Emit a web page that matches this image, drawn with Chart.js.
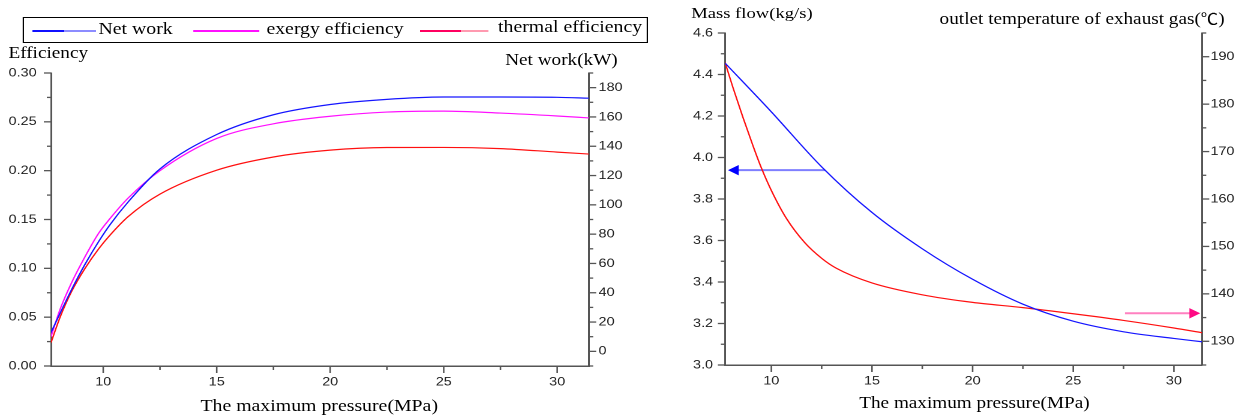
<!DOCTYPE html>
<html>
<head>
<meta charset="utf-8">
<script src="https://cdn.jsdelivr.net/npm/chart.js@4.4.1/dist/chart.umd.min.js"></script>
<style>
  html, body { margin: 0; padding: 0; background: #fff; }
  /* the whole figure is drawn narrow and widened, like the original export */
  #page { position: relative; width: 1030px; height: 416px; transform: scaleX(1.2); transform-origin: 0 0; }
  canvas { position: absolute; top: 0; }
  #effChart  { left: 0; }
  #massChart { left: 560px; }
  .ttl { position: absolute; font: 16px "Liberation Serif", "Times New Roman", serif; color: #000; white-space: nowrap; line-height: 18px; }
  .ctr { transform: translateX(-50%); }
  .cjk { font-family: "Noto Sans CJK SC", sans-serif; font-size: 14.5px; }
  #legend { position: absolute; left: 19px; top: 17px; width: 519px; height: 24px; border: 1.5px solid #000; }
  #legend .ln { position: absolute; top: 12px; height: 2px; }
  #legend .tx { position: absolute; top: 2px; font: 16.5px "Liberation Serif", "Times New Roman", serif; white-space: nowrap; line-height: 18px; }
</style>
</head>
<body>
<div id="page">
  <canvas id="effChart" width="540" height="416"></canvas>
  <canvas id="massChart" width="470" height="416"></canvas>

  <div id="legend">
    <span class="ln" style="left:7px;width:53px;background:linear-gradient(to right,#1010ff 50%,#8c8cff 50%)"></span>
    <span class="tx" style="left:62px">Net work</span>
    <span class="ln" style="left:141px;width:55px;background:#ff10ff"></span>
    <span class="tx" style="left:202px">exergy efficiency</span>
    <span class="ln" style="left:330px;width:57px;background:linear-gradient(to right,#ff0060 60%,#ff9ab0 60%)"></span>
    <span class="tx" style="left:395px;top:0">thermal efficiency</span>
  </div>

  <div class="ttl" style="left:7px;top:44px">Efficiency</div>
  <div class="ttl" style="left:421px;top:51px">Net work(kW)</div>
  <div class="ttl ctr" style="left:266px;top:397px;font-size:16.5px">The maximum pressure(MPa)</div>

  <div class="ttl" style="left:576px;top:4px;font-size:15.5px">Mass flow(kg/s)</div>
  <div class="ttl" style="left:783px;top:9px">outlet temperature of exhaust gas(<span class="cjk">℃</span>)</div>
  <div class="ttl ctr" style="left:812px;top:394px">The maximum pressure(MPa)</div>
</div>

<script>
"use strict";

// ── data: efficiency / net work vs maximum pressure ──────────────────────────
const pressure   = [7.7, 8.1, 8.6, 9.2, 9.8, 10.3, 11.1, 12.5, 15, 17.5, 20, 22.5, 25, 27.5, 30, 31.4];
const netWork    = [12.9, 26, 42, 59.5, 75, 86.5, 102, 124.5, 148, 161.5, 168.5, 172, 173.6, 173.6, 173.4, 172.8];
const exergyEff  = [0.030, 0.058, 0.085, 0.112, 0.136, 0.151, 0.172, 0.200, 0.233, 0.248, 0.2557, 0.260, 0.261, 0.259, 0.256, 0.254];
const thermalEff = [0.024, 0.050, 0.076, 0.100, 0.120, 0.134, 0.153, 0.176, 0.2005, 0.214, 0.221, 0.2237, 0.2238, 0.2226, 0.219, 0.217];

// ── data: mass flow / exhaust outlet temperature vs maximum pressure ─────────
const massPressure = [7.7, 10, 12.5, 15, 17.5, 20, 22.5, 25, 27.5, 30, 31.4];
const massFlow     = [4.455, 4.22, 3.955, 3.735, 3.56, 3.413, 3.293, 3.211, 3.160, 3.128, 3.112];
const tempPressure = [7.7, 8.1, 8.59, 9.09, 9.5, 10, 10.75, 11.66, 12.5, 13.23, 15, 17.5, 20, 22.5, 25, 27.5, 30, 31.4];
const outletTemp   = [188.8, 183.4, 177.2, 171.2, 166.6, 161.8, 155.9, 150.8, 147.5, 145.4, 142.3, 139.8, 138.2, 137.1, 135.8, 134.4, 132.8, 131.8];

// arrows pointing each curve to its axis
const massArrowX = [12.67, 8.2];
const massArrowY = [3.939, 3.939];
const tempArrowX = [27.57, 30.95];
const tempArrowY = [135.9, 135.9];

// ── tick labels ──────────────────────────────────────────────────────────────
const pressureTicks = [10, 15, 20, 25, 30];
const effTicks      = [0, 0.05, 0.10, 0.15, 0.20, 0.25, 0.30];
const workTicks     = [0, 20, 40, 60, 80, 100, 120, 140, 160, 180];
const massTicks     = [3.0, 3.2, 3.4, 3.6, 3.8, 4.0, 4.2, 4.4, 4.6];
const tempTicks     = [130, 140, 150, 160, 170, 180, 190];

const AXIS_COLOR = "#555";
const tickFont = { family: "Liberation Sans, Arial, sans-serif", size: 12 };

function pts(xs, ys) {
  return xs.map((x, i) => ({ x, y: ys[i] }));
}

function fixedTicks(values) {
  return s => { s.ticks = values.map(value => ({ value })); };
}

// outward major + minor tick marks, drawn on the library's scales
const tickMarks = {
  id: "tickMarks",
  afterDraw(chart, args, opts) {
    const ctx = chart.ctx;
    ctx.save();
    ctx.strokeStyle = AXIS_COLOR;
    ctx.lineWidth = 1.3;
    Object.entries(opts.minor || {}).forEach(([id, step]) => {
      const s = chart.scales[id];
      const majors = s.ticks.map(t => t.value);
      const marks = majors.map(v => [v, true]);
      for (let i = Math.ceil(s.min / step - 1e-6); i * step <= s.max + 1e-9; i++) {
        const v = i * step;
        if (!majors.some(m => Math.abs(m - v) < step / 10)) marks.push([v, false]);
      }
      marks.forEach(([v, major]) => {
        const p = s.getPixelForValue(v);
        ctx.beginPath();
        if (s.isHorizontal()) {
          const len = major ? 7 : 4;
          ctx.moveTo(p, s.top); ctx.lineTo(p, s.top + len);
        } else if (s.position === "left") {
          const len = major ? 6 : 3.5;
          ctx.moveTo(s.right, p); ctx.lineTo(s.right - len, p);
        } else {
          const len = major ? 6 : 3.5;
          ctx.moveTo(s.left, p); ctx.lineTo(s.left + len, p);
        }
        ctx.stroke();
      });
    });
    ctx.restore();
  }
};

function axis(extra) {
  return Object.assign({
    type: "linear",
    grid: { drawOnChartArea: false, drawTicks: false },
    border: { color: AXIS_COLOR, width: 1.5 },
  }, extra);
}

function line(label, xs, ys, color, yAxisID) {
  return {
    label, data: pts(xs, ys), yAxisID,
    borderColor: color, borderWidth: 1.2,
    pointRadius: 0, fill: false,
    cubicInterpolationMode: "monotone",
  };
}

function arrow(xs, ys, shaft, head, rotation, yAxisID) {
  return {
    data: pts(xs, ys), yAxisID,
    borderColor: shaft, borderWidth: 2,
    pointRadius: [0, 5], pointStyle: "triangle", pointRotation: rotation,
    pointBackgroundColor: head, pointBorderColor: head, pointBorderWidth: 1,
  };
}

const common = {
  responsive: false,
  animation: false,
  devicePixelRatio: 2,
  events: [],
  plugins: { legend: { display: false }, tooltip: { enabled: false } },
};

// ── left: efficiency and net work ────────────────────────────────────────────
new Chart(document.getElementById("effChart"), {
  type: "line",
  data: {
    datasets: [
      line("Net work", pressure, netWork, "#1515ff", "yWork"),
      line("exergy efficiency", pressure, exergyEff, "#ff10ff", "yEff"),
      line("thermal efficiency", pressure, thermalEff, "#ff1010", "yEff"),
    ],
  },
  options: Object.assign({}, common, {
    layout: { padding: { top: 73, left: 0, right: 0, bottom: 0 } },
    plugins: Object.assign({}, common.plugins, {
      tickMarks: { minor: { x: 2.5, yEff: 0.025, yWork: 10 } },
    }),
    scales: {
      x: axis({
        min: 7.7, max: 31.4,
        afterBuildTicks: fixedTicks(pressureTicks),
        afterFit: s => { s.height = 50; },
        ticks: { padding: 9, font: tickFont, color: "#222", maxRotation: 0, autoSkip: false },
      }),
      yEff: axis({
        position: "left", min: 0, max: 0.30,
        afterBuildTicks: fixedTicks(effTicks),
        afterFit: s => { s.width = 42.5; },
        ticks: { padding: 12, font: tickFont, color: "#222", callback: v => v.toFixed(2) },
      }),
      yWork: axis({
        position: "right", min: -10, max: 190,
        afterBuildTicks: fixedTicks(workTicks),
        afterFit: s => { s.width = 49.2; },
        ticks: { padding: 8, font: tickFont, color: "#222" },
      }),
    },
  }),
  plugins: [tickMarks],
});

// ── right: mass flow and exhaust outlet temperature ──────────────────────────
new Chart(document.getElementById("massChart"), {
  type: "line",
  data: {
    datasets: [
      line("Mass flow", massPressure, massFlow, "#1515ff", "yMass"),
      line("outlet temperature", tempPressure, outletTemp, "#ff1010", "yTemp"),
      arrow(massArrowX, massArrowY, "#7f7fff", "#0000ff", -90, "yMass"),
      arrow(tempArrowX, tempArrowY, "#ff80c0", "#ff0a84", 90, "yTemp"),
    ],
  },
  options: Object.assign({}, common, {
    layout: { padding: { top: 33, left: 0, right: 0, bottom: 0 } },
    plugins: Object.assign({}, common.plugins, {
      tickMarks: { minor: { x: 2.5, yMass: 0.1, yTemp: 5 } },
    }),
    scales: {
      x: axis({
        min: 7.7, max: 31.4,
        afterBuildTicks: fixedTicks(pressureTicks),
        afterFit: s => { s.height = 51; },
        ticks: { padding: 9, font: tickFont, color: "#222", maxRotation: 0, autoSkip: false },
      }),
      yMass: axis({
        position: "left", min: 3.0, max: 4.6,
        afterBuildTicks: fixedTicks(massTicks),
        afterFit: s => { s.width = 44.2; },
        ticks: { padding: 10, font: tickFont, color: "#222", callback: v => v.toFixed(1) },
      }),
      yTemp: axis({
        position: "right", min: 125, max: 195,
        afterBuildTicks: fixedTicks(tempTicks),
        afterFit: s => { s.width = 28.3; },
        ticks: { padding: 7, font: tickFont, color: "#222" },
      }),
    },
  }),
  plugins: [tickMarks],
});
</script>
</body>
</html>
